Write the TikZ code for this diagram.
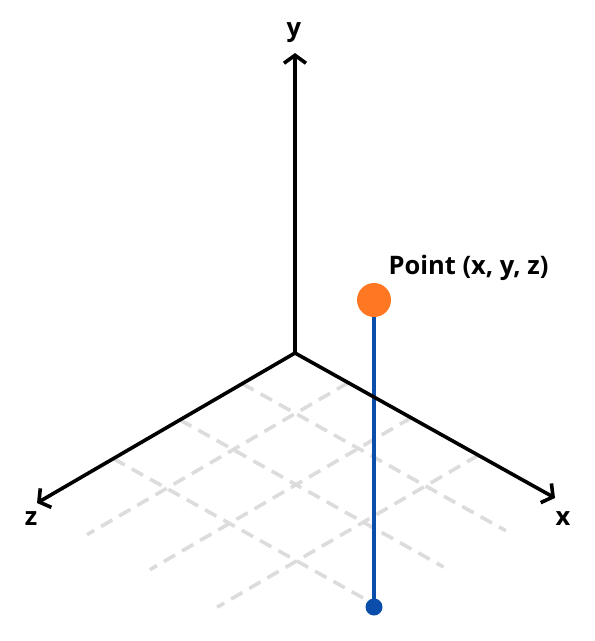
\documentclass[tikz,border=0pt]{standalone}
\usepackage{fontspec}
\setsansfont{Open Sans}
\usepackage{xcolor}
\usetikzlibrary{arrows.meta}
\definecolor{ptorange}{HTML}{FF7722}
\definecolor{stemblue}{HTML}{0A4DAA}
\definecolor{gridgray}{HTML}{DCDCDC}
\tikzset{
  axis/.style={line width=3.6pt, -{Straight Barb[length=8pt,width=22pt]}},
  gridline/.style={gridgray, line width=3.6pt, dash pattern=on 13pt off 8pt},
  axislabel/.style={font=\fontsize{25.5}{30}\selectfont\sffamily\bfseries},
}
\begin{document}
\begin{tikzpicture}[x=1pt,y=-1pt]
  \useasboundingbox (0,0) rectangle (595,641);
  \coordinate (O) at (295,353);
  % floor grid
  \begin{scope}[shift={(O)}, x={(0.873pt,-0.487pt)}, y={(-0.865pt,-0.503pt)}]
    \foreach \t in {61,133,210}{
      \draw[gridline] (0,\t) -- (302,\t);
      \draw[gridline] (\t,0) -- (\t,302);
    }
  \end{scope}
  % point and its stem
  \node[circle, fill=ptorange, minimum size=34pt, inner sep=0pt] (pt) at (374,300) {};
  \node[circle, fill=stemblue, minimum size=17pt, inner sep=0pt] (foot) at (374,607) {};
  \draw[stemblue, line width=3.6pt] (pt) -- (foot.center);
  \node[axislabel, anchor=west] (ptlab) at (385,268) {Point (x, y, z)};
  % axes
  \coordinate (xend) at (555,498);
  \coordinate (yend) at (295,53);
  \coordinate (zend) at (37,503);
  \draw[axis] (O) -- (xend);
  \draw[axis] (O) -- (yend);
  \draw[axis] (O) -- (zend);
  \node[axislabel] (xlab) at (563,519) {x};
  \node[axislabel] (ylab) at (294,33) {y};
  \node[axislabel] (zlab) at (31,519) {z};
\end{tikzpicture}
\end{document}
